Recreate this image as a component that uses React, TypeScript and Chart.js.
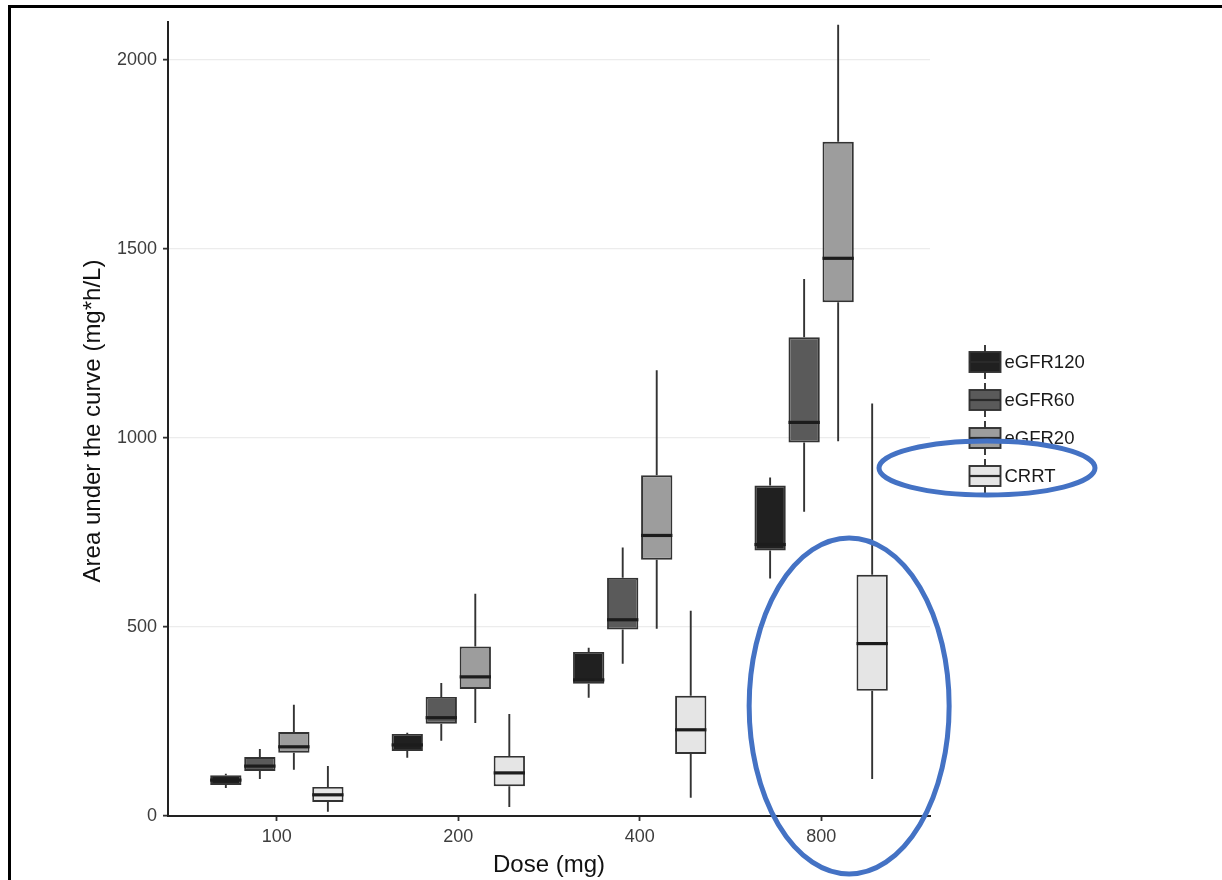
import { useEffect, useRef } from 'react';
import { Chart, registerables } from 'chart.js';

Chart.register(...registerables);

// Dose groups on the x axis
const doses = ['100', '200', '400', '800'];

// Box statistics per renal-function group, one value per dose
const e120Lo = [74, 154, 313, 628];
const e120Q1 = [82, 172, 350, 702];
const e120Med = [95, 188, 360, 718];
const e120Q3 = [108, 217, 434, 874];
const e120Hi = [112, 220, 445, 895];

const e60Lo = [98, 199, 403, 805];
const e60Q1 = [119, 244, 493, 988];
const e60Med = [132, 260, 519, 1041];
const e60Q3 = [156, 315, 630, 1266];
const e60Hi = [177, 352, 710, 1420];

const e20Lo = [122, 246, 495, 991];
const e20Q1 = [167, 336, 678, 1359];
const e20Med = [183, 368, 742, 1475];
const e20Q3 = [222, 448, 901, 1783];
const e20Hi = [294, 588, 1179, 2093];

const crrtLo = [11, 24, 48, 98];
const crrtQ1 = [37, 79, 164, 331];
const crrtMed = [56, 114, 228, 456];
const crrtQ3 = [77, 159, 318, 638];
const crrtHi = [132, 270, 543, 1091];

const yTicks = [0, 500, 1000, 1500, 2000];

const groups = [
  { label: 'eGFR120', fill: '#202020', lo: e120Lo, q1: e120Q1, med: e120Med, q3: e120Q3, hi: e120Hi },
  { label: 'eGFR60', fill: '#5a5a5a', lo: e60Lo, q1: e60Q1, med: e60Med, q3: e60Q3, hi: e60Hi },
  { label: 'eGFR20', fill: '#9d9d9d', lo: e20Lo, q1: e20Q1, med: e20Med, q3: e20Q3, hi: e20Hi },
  { label: 'CRRT', fill: '#e5e5e5', lo: crrtLo, q1: crrtQ1, med: crrtMed, q3: crrtQ3, hi: crrtHi },
];

const FONT = '"Liberation Sans", Arial, Helvetica, sans-serif';
const OUTLINE = '#333333';
const HIGHLIGHT = '#4472C4';

// Whiskers, medians, axis titles, legend keys and the highlight rings
const boxPlugin = {
  id: 'boxDecor',
  beforeDatasetsDraw(chart: any) {
    const ctx = chart.ctx;
    const y = chart.scales.y;
    ctx.save();
    ctx.strokeStyle = OUTLINE;
    ctx.lineWidth = 1.9;
    groups.forEach((g, di) => {
      const meta = chart.getDatasetMeta(di);
      meta.data.forEach((el: any, i: number) => {
        ctx.beginPath();
        ctx.moveTo(el.x, y.getPixelForValue(g.hi[i]));
        ctx.lineTo(el.x, y.getPixelForValue(g.q3[i]));
        ctx.moveTo(el.x, y.getPixelForValue(g.q1[i]));
        ctx.lineTo(el.x, y.getPixelForValue(g.lo[i]));
        ctx.stroke();
      });
    });
    ctx.restore();
  },
  afterDatasetsDraw(chart: any) {
    const ctx = chart.ctx;
    const y = chart.scales.y;
    ctx.save();
    ctx.strokeStyle = '#1c1c1c';
    ctx.lineWidth = 3.2;
    groups.forEach((g, di) => {
      const meta = chart.getDatasetMeta(di);
      meta.data.forEach((el: any, i: number) => {
        const py = y.getPixelForValue(g.med[i]);
        ctx.beginPath();
        ctx.moveTo(el.x - el.width / 2, py);
        ctx.lineTo(el.x + el.width / 2, py);
        ctx.stroke();
      });
    });
    ctx.restore();
  },
  afterDraw(chart: any) {
    const ctx = chart.ctx;
    const area = chart.chartArea;
    const x = chart.scales.x;
    const y = chart.scales.y;
    ctx.save();

    // axis titles
    ctx.fillStyle = '#111111';
    ctx.font = `24px ${FONT}`;
    ctx.textAlign = 'center';
    ctx.textBaseline = 'middle';
    ctx.fillText('Dose (mg)', (area.left + area.right) / 2, 865);
    ctx.save();
    ctx.translate(93, (area.top + area.bottom) / 2 + 2);
    ctx.rotate(-Math.PI / 2);
    ctx.fillText('Area under the curve (mg*h/L)', 0, 0);
    ctx.restore();

    // legend
    const keyX = area.right + 55;
    const midY = (area.top + area.bottom) / 2;
    const keyW = 31;
    const keyH = 20;
    let crrtY = midY;
    groups.forEach((g, i) => {
      const cy = midY + (i - 1.5) * 38;
      if (g.label === 'CRRT') crrtY = cy;
      ctx.strokeStyle = OUTLINE;
      ctx.lineWidth = 1.9;
      ctx.beginPath();
      ctx.moveTo(keyX, cy - keyH / 2 - 7);
      ctx.lineTo(keyX, cy + keyH / 2 + 7);
      ctx.stroke();
      ctx.fillStyle = g.fill;
      ctx.fillRect(keyX - keyW / 2, cy - keyH / 2, keyW, keyH);
      ctx.strokeRect(keyX - keyW / 2, cy - keyH / 2, keyW, keyH);
      ctx.strokeStyle = '#2a2a2a';
      ctx.lineWidth = 2.2;
      ctx.beginPath();
      ctx.moveTo(keyX - keyW / 2, cy);
      ctx.lineTo(keyX + keyW / 2, cy);
      ctx.stroke();
      ctx.fillStyle = '#1a1a1a';
      ctx.font = `18.5px ${FONT}`;
      ctx.textAlign = 'left';
      ctx.textBaseline = 'middle';
      ctx.fillText(g.label, keyX + keyW / 2 + 4, cy + 1);
    });

    // highlight rings
    ctx.strokeStyle = HIGHLIGHT;
    ctx.lineWidth = 5;
    ctx.beginPath();
    ctx.ellipse(keyX + 2, crrtY - 8, 108, 27, 0, 0, Math.PI * 2);
    ctx.stroke();
    ctx.beginPath();
    ctx.ellipse(x.getPixelForValue(4) + 28, y.getPixelForValue(291), 100, 168, 0, 0, Math.PI * 2);
    ctx.stroke();

    ctx.restore();
  },
};

export default function App() {
  const canvasRef = useRef<HTMLCanvasElement | null>(null);

  useEffect(() => {
    if (!canvasRef.current) return;
    const chart = new Chart(canvasRef.current, {
      type: 'bar',
      data: {
        datasets: groups.map((g) => ({
          label: g.label,
          data: doses.map((_, i) => ({ x: i + 1, y: [g.q1[i], g.q3[i]] })),
          backgroundColor: g.fill,
          borderColor: OUTLINE,
          borderWidth: 1.9,
          borderSkipped: false,
          categoryPercentage: 0.75,
          barPercentage: 0.92,
        })) as any,
      },
      options: {
        responsive: false,
        animation: false,
        events: [],
        layout: { padding: { left: 0, top: 22, right: 292, bottom: 0 } },
        plugins: { legend: { display: false }, tooltip: { enabled: false } },
        scales: {
          x: {
            type: 'linear',
            min: 0.4,
            max: 4.6,
            offset: false,
            afterBuildTicks: (scale: any) => {
              scale.ticks = doses.map((_, i) => ({ value: i + 1 }));
            },
            afterFit: (scale: any) => {
              scale.height = 64;
            },
            ticks: {
              callback: (v: any) => doses[Math.round(Number(v)) - 1] ?? '',
              font: { family: FONT, size: 18 },
              color: '#3d3d3d',
              padding: 5,
              maxRotation: 0,
              autoSkip: false,
            },
            grid: {
              offset: false,
              drawOnChartArea: false,
              drawTicks: true,
              tickLength: 5,
              tickColor: OUTLINE,
              tickWidth: 1.8,
            },
            border: { display: true, color: '#222222', width: 2 },
          },
          y: {
            type: 'linear',
            min: 0,
            max: 2100,
            afterBuildTicks: (scale: any) => {
              scale.ticks = yTicks.map((v) => ({ value: v }));
            },
            afterFit: (scale: any) => {
              scale.width = 168;
            },
            ticks: {
              callback: (v: any) => String(v),
              font: { family: FONT, size: 18 },
              color: '#3d3d3d',
              padding: 6,
            },
            grid: {
              color: '#ececec',
              lineWidth: 1.3,
              drawTicks: true,
              tickLength: 5,
              tickColor: OUTLINE,
              tickWidth: 1.8,
            },
            border: { display: true, color: '#222222', width: 2 },
          },
        },
      },
      plugins: [boxPlugin],
    });
    return () => chart.destroy();
  }, []);

  return (
    <div style={{ position: 'absolute', left: 0, top: 0, width: 1222, height: 880, background: '#ffffff', overflow: 'hidden' }}>
      <canvas ref={canvasRef} width={1222} height={880} style={{ position: 'absolute', left: 0, top: 0 }} />
      <div
        style={{
          position: 'absolute',
          left: 8,
          top: 5,
          width: 1300,
          height: 1000,
          borderTop: '3px solid #000',
          borderLeft: '3px solid #000',
          pointerEvents: 'none',
        }}
      />
    </div>
  );
}
